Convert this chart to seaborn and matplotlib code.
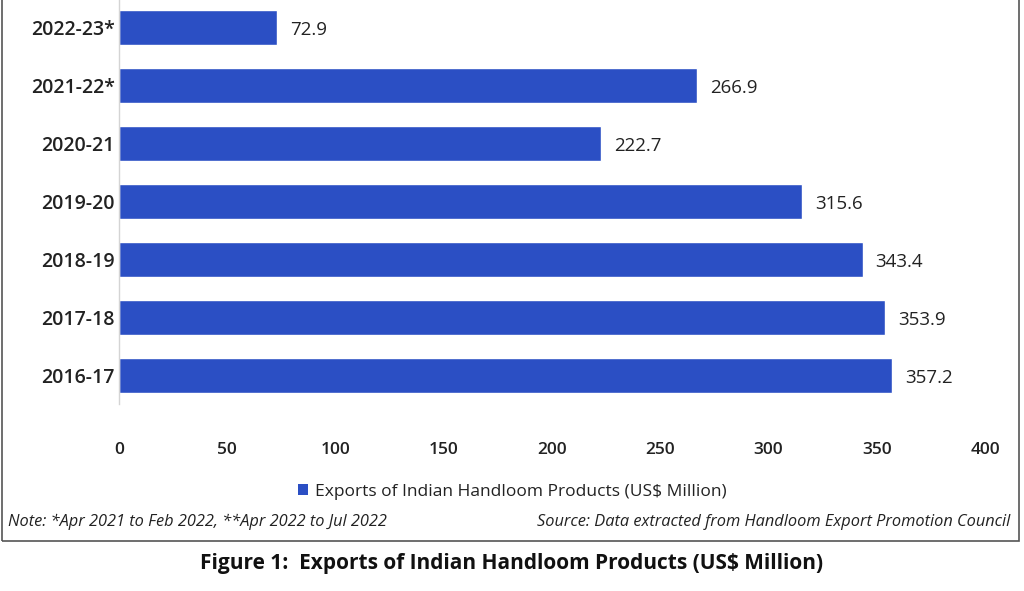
import matplotlib
matplotlib.use("Agg")
import matplotlib.pyplot as plt
import seaborn as sns
import pandas as pd
from matplotlib.patches import Patch, Rectangle

# data
years = ["2022-23*", "2021-22*", "2020-21", "2019-20", "2018-19", "2017-18", "2016-17"]
exports = [72.9, 266.9, 222.7, 315.6, 343.4, 353.9, 357.2]
series_name = "Exports of Indian Handloom Products (US$ Million)"

BAR_COLOR = "#2b4fc4"
TEXT_COLOR = "#222222"

sns.set_theme(style="white")
plt.rcParams["font.family"] = ["Open Sans", "DejaVu Sans"]

df = pd.DataFrame({"year": years, "value": exports})

fig = plt.figure(figsize=(10.24, 5.91), dpi=100)
ax = fig.add_axes([0.116, 0.316, 0.846, 0.687])

sns.barplot(data=df, x="value", y="year", orient="h", color=BAR_COLOR,
            saturation=1, width=0.6, ax=ax)

# value labels next to bars
for i, v in enumerate(exports):
    ax.text(v + 6, i + 0.05, f"{v:.1f}", va="center", ha="left",
            fontsize=13.5, color=TEXT_COLOR)

ax.set_xlim(0, 400)
ax.set_xticks(range(0, 401, 50))
ax.set_xlabel("")
ax.set_ylabel("")
ax.tick_params(axis="x", length=0, pad=27, labelsize=12.5, labelcolor=TEXT_COLOR)
ax.tick_params(axis="y", length=0, pad=3, labelsize=14, labelcolor=TEXT_COLOR)
for lab in ax.get_yticklabels() + ax.get_xticklabels():
    lab.set_fontweight("semibold")

for side in ["top", "right", "bottom"]:
    ax.spines[side].set_visible(False)
ax.spines["left"].set_color("#d4d4d4")
ax.spines["left"].set_linewidth(1)

# legend
handle = Patch(facecolor=BAR_COLOR, edgecolor="none", label=series_name)
fig.legend(handles=[handle], loc="center", bbox_to_anchor=(0.5, 1 - 492 / 591),
           frameon=False, fontsize=12.5, handlelength=0.6, handleheight=0.6,
           handletextpad=0.4, labelcolor=TEXT_COLOR)

# notes
fig.text(8 / 1024, 1 - 522 / 591, "Note: *Apr 2021 to Feb 2022, **Apr 2022 to Jul 2022",
         fontsize=11.8, style="italic", color=TEXT_COLOR, va="center", ha="left")
fig.text(1010 / 1024, 1 - 522 / 591, "Source: Data extracted from Handloom Export Promotion Council",
         fontsize=11.8, style="italic", color=TEXT_COLOR, va="center", ha="right")

# chart frame
fig.patches.append(Rectangle((2 / 1024, 1 - 541 / 591), 1017 / 1024, 541 / 591 + 0.01,
                             transform=fig.transFigure, fill=False,
                             edgecolor="#555555", linewidth=1.2))

# caption
fig.text(0.5, 1 - 563 / 591, "Figure 1:  Exports of Indian Handloom Products (US$ Million)",
         fontsize=15, fontweight="bold", color="#111111", ha="center", va="center")

fig.savefig("out.png", dpi=100)
